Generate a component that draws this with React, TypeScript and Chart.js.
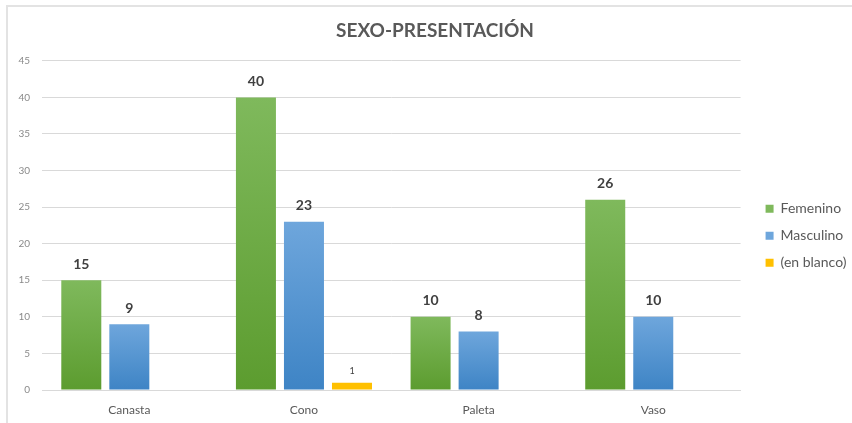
import React, { useEffect, useRef } from "react";
import { Chart, registerables } from "chart.js";

Chart.register(...registerables);

const TITLE = "SEXO-PRESENTACIÓN";
const categories = ["Canasta", "Cono", "Paleta", "Vaso"];
const femenino: (number | null)[] = [15, 40, 10, 26];
const masculino: (number | null)[] = [9, 23, 8, 10];
const enBlanco: (number | null)[] = [null, 1, null, null];
const seriesNames = ["Femenino", "Masculino", "(en blanco)"];
const yMax = 45;
const yStep = 5;

const FONT = "Lato, 'Open Sans', sans-serif";
const TEXT = "#595959";

function grad(top: string, bottom: string) {
  return (ctx: any) => {
    const chart = ctx.chart;
    const y = chart.scales && chart.scales.y;
    if (!y || ctx.raw == null) return bottom;
    const y0 = y.getPixelForValue(ctx.raw);
    const y1 = y.getPixelForValue(0);
    if (!isFinite(y0) || !isFinite(y1) || y0 === y1) return bottom;
    const g = chart.ctx.createLinearGradient(0, y0, 0, y1);
    g.addColorStop(0, top);
    g.addColorStop(1, bottom);
    return g;
  };
}

const labelsPlugin = {
  id: "valueLabels",
  afterDatasetsDraw(chart: any) {
    const ctx = chart.ctx;
    chart.data.datasets.forEach((ds: any, di: number) => {
      const meta = chart.getDatasetMeta(di);
      meta.data.forEach((el: any, i: number) => {
        const v = ds.data[i];
        if (v == null) return;
        ctx.save();
        const small = di === 2;
        ctx.font = small ? `9px ${FONT}` : `bold 14px ${FONT}`;
        ctx.fillStyle = "#404040";
        ctx.textAlign = "center";
        ctx.textBaseline = "bottom";
        ctx.fillText(String(v), el.x, el.y - (small ? 7 : 9));
        ctx.restore();
      });
    });
  },
};

export default function App() {
  const ref = useRef<HTMLCanvasElement>(null);
  useEffect(() => {
    if (!ref.current) return;
    const chart = new Chart(ref.current, {
      type: "bar",
      data: {
        labels: categories,
        datasets: [
          {
            label: seriesNames[0],
            data: femenino,
            backgroundColor: grad("#7fb95c", "#5c9c2f"),
          },
          {
            label: seriesNames[1],
            data: masculino,
            backgroundColor: grad("#6ea6dc", "#3e84c5"),
          },
          {
            label: seriesNames[2],
            data: enBlanco,
            backgroundColor: "#ffc000",
          },
        ],
      },
      options: {
        responsive: false,
        animation: false,
        datasets: {
          bar: {
            categoryPercentage: 0.825,
            barPercentage: 0.833,
            skipNull: false,
          } as any,
        },
        layout: { padding: { left: 10, right: -8, top: 0, bottom: 0 } },
        plugins: {
          title: {
            display: true,
            text: TITLE,
            color: TEXT,
            font: { family: FONT, size: 19, weight: "bold" },
            padding: { top: 19, bottom: 19 },
          },
          legend: {
            position: "right",
            title: {
              display: true,
              text: " ",
              font: { family: FONT, size: 12 },
              padding: { top: 17, bottom: 17 },
            },
            labels: {
              color: TEXT,
              font: { family: FONT, size: 14 },
              boxWidth: 8,
              boxHeight: 8,
              padding: 13,
              generateLabels: (chart: any) => {
                const items = Chart.defaults.plugins.legend.labels.generateLabels(chart);
                items.forEach((it: any) => {
                  if (it.datasetIndex === 2) it.text = it.text + " ";
                });
                return items;
              },
            },
          },
          tooltip: { enabled: false },
        },
        scales: {
          x: {
            grid: { display: false, drawTicks: false },
            border: { display: true, color: "#d9d9d9", width: 1 },
            ticks: {
              color: TEXT,
              font: { family: FONT, size: 12 },
              padding: 13,
            },
            afterFit: (s: any) => {
              s.height = 33;
            },
          },
          y: {
            min: 0,
            max: yMax,
            ticks: {
              stepSize: yStep,
              color: "#8a8a8a",
              font: { family: FONT, size: 10 },
              padding: 12,
            },
            grid: { color: "#d9d9d9", drawTicks: false },
            border: { display: false },
            afterFit: (s: any) => {
              s.width = 32;
            },
          },
          y2: {
            position: "right",
            display: true,
            min: 0,
            max: yMax,
            grid: { display: false, drawTicks: false },
            border: { display: false },
            ticks: { display: false },
            afterFit: (s: any) => {
              s.width = 12;
            },
          },
        },
      },
      plugins: [labelsPlugin],
    });
    return () => chart.destroy();
  }, []);

  return (
    <div style={{ position: "fixed", left: 0, top: 0, width: 852, height: 423, background: "#fff" }}>
      <div
        style={{
          position: "absolute",
          left: 6,
          top: 5,
          right: 0,
          bottom: 0,
          borderTop: "2px solid #e3e3e3",
          borderLeft: "2px solid #e3e3e3",
        }}
      />
      <canvas ref={ref} width={852} height={423} style={{ position: "absolute", left: 0, top: 0 }} />
    </div>
  );
}
